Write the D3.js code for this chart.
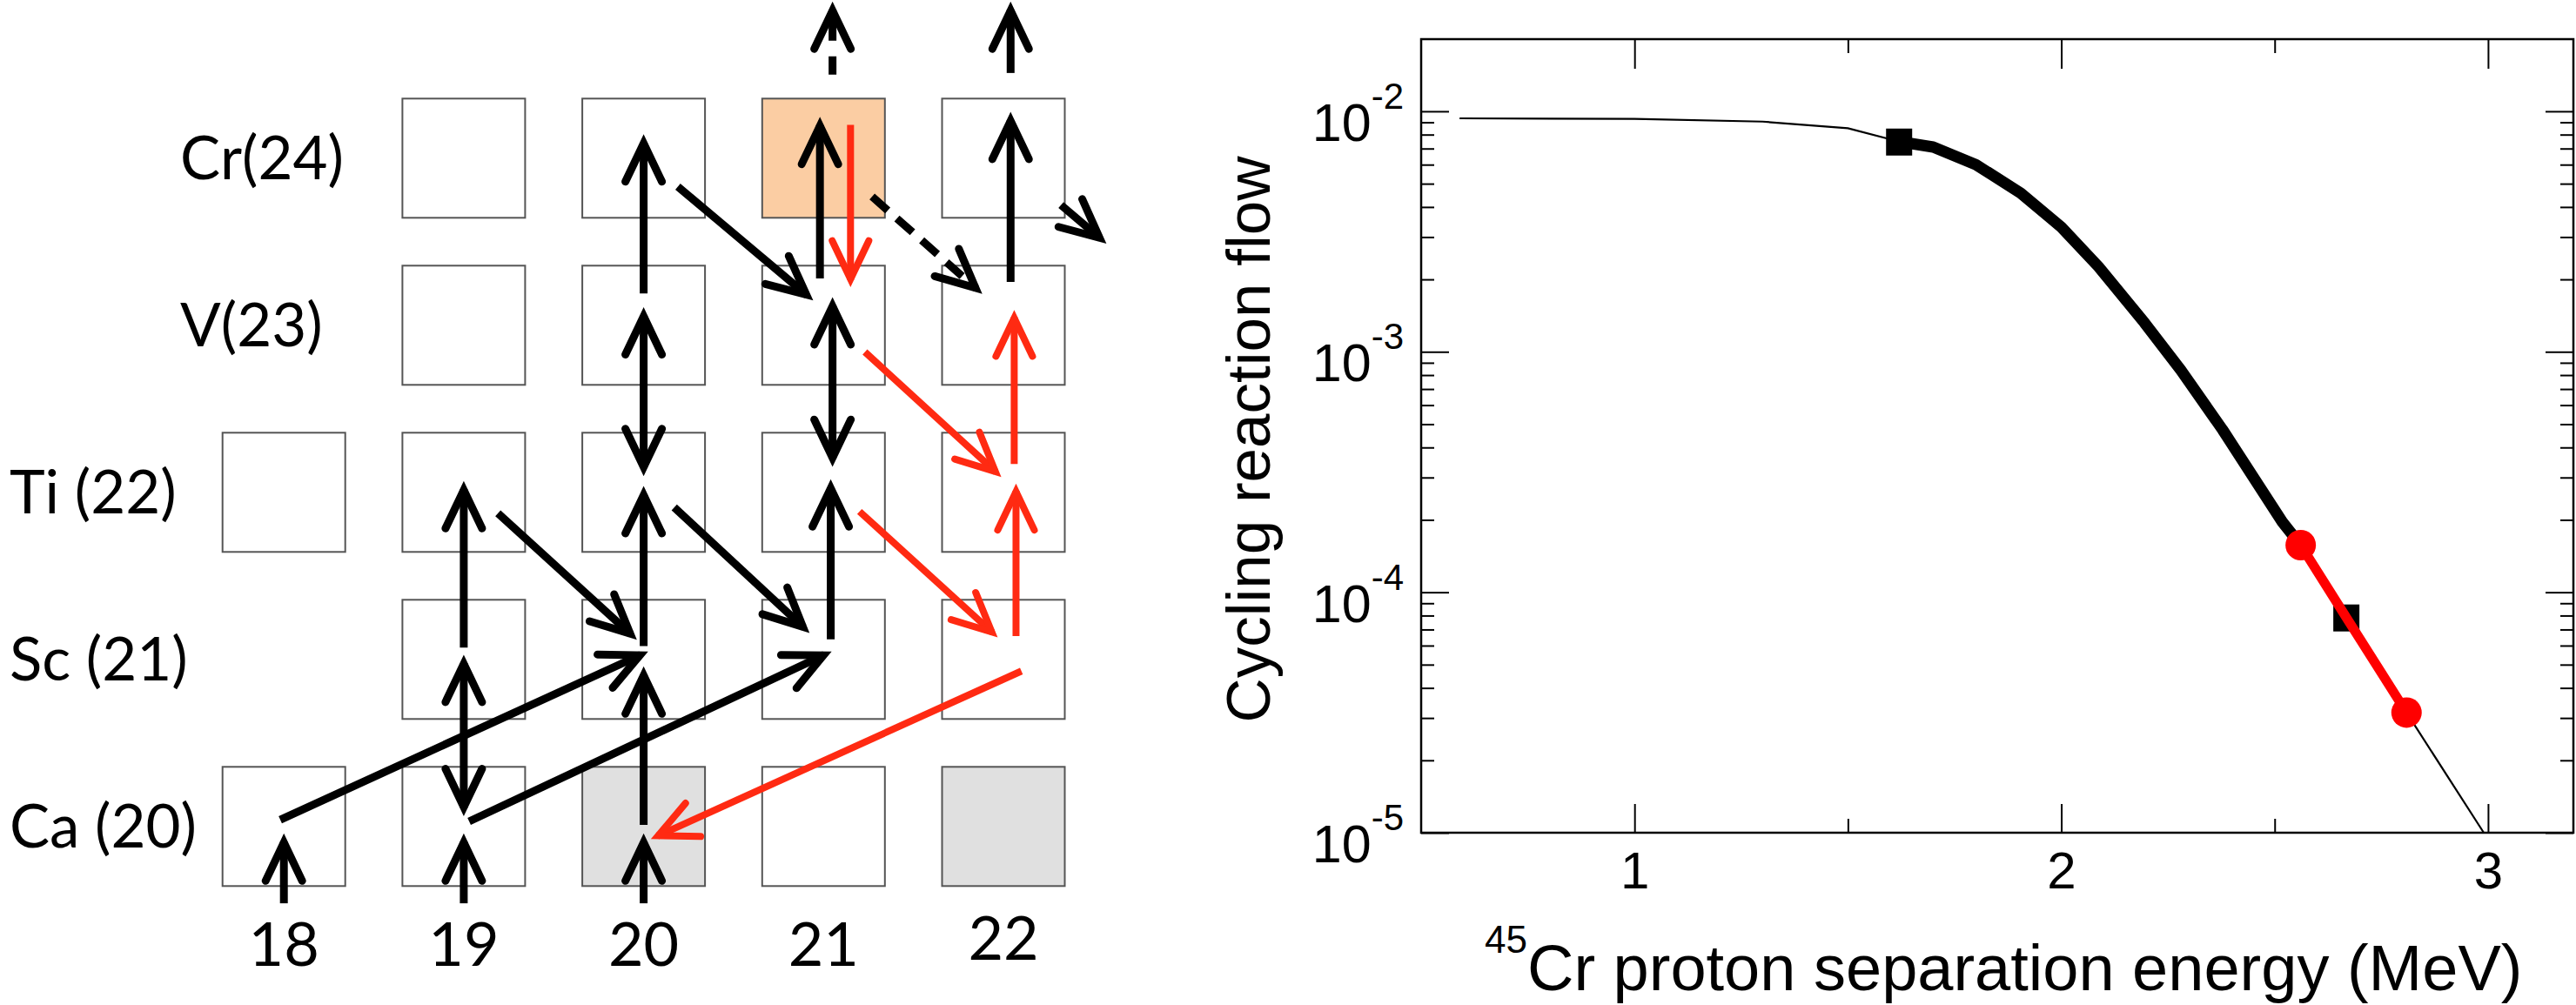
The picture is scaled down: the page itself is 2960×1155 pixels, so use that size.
<!DOCTYPE html>
<html>
<head>
<meta charset="utf-8">
<script src="https://cdn.jsdelivr.net/npm/d3@7"></script>
<style>
  body { margin: 0; background: #fff; }
  svg { display: block; }
</style>
</head>
<body>
<svg id="fig" width="2960" height="1155"></svg>
<script>
// ---------- left panel data: nuclide chart ----------
let rowZ = [24, 23, 22, 21, 20],
    rowLabels = ["Cr(24)", "V(23)", "Ti (22)", "Sc (21)", "Ca (20)"],
    colN = [18, 19, 20, 21, 22],
    colLabels = ["18", "19", "20", "21", "22"];

// [N, Z, fill]
let boxes = [
  [19, 24, "w"], [20, 24, "w"], [21, 24, "o"], [22, 24, "w"],
  [19, 23, "w"], [20, 23, "w"], [21, 23, "w"], [22, 23, "w"],
  [18, 22, "w"], [19, 22, "w"], [20, 22, "w"], [21, 22, "w"], [22, 22, "w"],
  [19, 21, "w"], [20, 21, "w"], [21, 21, "w"], [22, 21, "w"],
  [18, 20, "w"], [19, 20, "w"], [20, 20, "g"], [21, 20, "w"], [22, 20, "g"]
];

// [N tail, Z tail, N tip, Z tip, colour, dashed, heads]
let arrows = [
  [18, 19.54, 18, 19.94, "k", 0, 1],
  [19, 19.54, 19, 19.94, "k", 0, 1],
  [20, 19.54, 20, 19.94, "k", 0, 1],
  [19, 20.08, 19, 21.01, "k", 0, 2],
  [19, 21.07, 19, 22.05, "k", 0, 1],
  [20, 20.01, 20, 20.94, "k", 0, 1],
  [20, 21.08, 20, 22.02, "k", 0, 1],
  [20, 22.115, 20, 23.09, "k", 0, 2],
  [20, 23.19, 20, 24.125, "k", 0, 1],
  [21.04, 21.12, 21.04, 22.06, "k", 0, 1],
  [21.05, 22.17, 21.05, 23.15, "k", 0, 2],
  [20.98, 23.28, 20.98, 24.23, "k", 0, 1],
  [21.15, 24.2, 21.15, 23.24, "r", 0, 1],
  [21.05, 24.5, 21.05, 24.92, "k", 2, 1],
  [22.04, 24.51, 22.04, 24.92, "k", 0, 1],
  [22.04, 23.26, 22.04, 24.26, "k", 0, 1],
  [22.06, 22.17, 22.06, 23.08, "r", 0, 1],
  [22.07, 21.14, 22.07, 22.04, "r", 0, 1],
  [19.19, 21.875, 19.95, 21.13, "k", 0, 1],
  [20.17, 21.91, 20.91, 21.17, "k", 0, 1],
  [20.19, 23.83, 20.93, 23.16, "k", 0, 1],
  [21.27, 23.77, 21.87, 23.2, "k", 1, 1],
  [22.32, 23.72, 22.56, 23.5, "k", 0, 1],
  [21.23, 22.84, 21.98, 22.10, "r", 0, 1],
  [21.20, 21.885, 21.96, 21.14, "r", 0, 1],
  [17.98, 20.04, 20.01, 21.04, "k", 0, 1],
  [19.03, 20.03, 21.03, 21.04, "k", 0, 1],
  [22.10, 20.93, 20.05, 19.93, "r", 0, 1]
];

// ---------- right panel data ----------
let energy = [0.59, 1.0, 1.3, 1.5, 1.62, 1.70, 1.80, 1.905, 2.0, 2.087, 2.195, 2.28, 2.378, 2.518, 2.561, 2.668, 2.809, 2.99],
    flow = [9.35e-3, 9.3e-3, 9.06e-3, 8.5e-3, 7.48e-3, 7.1e-3, 6.0e-3, 4.57e-3, 3.3e-3, 2.26e-3, 1.32e-3, 8.4e-4, 4.74e-4, 1.96e-4, 1.57e-4, 7.85e-5, 3.16e-5, 1e-5];
let thickRange = [1.62, 2.561],
    redRange = [2.561, 2.809];
let squareE = [1.62, 2.668], squareF = [7.48e-3, 7.85e-5];
let circleE = [2.561, 2.809], circleF = [1.57e-4, 3.16e-5];
let xMajor = [1, 2, 3], xMinor = [1.5, 2.5],
    yMajor = [1e-5, 1e-4, 1e-3, 1e-2], yExp = ["-5", "-4", "-3", "-2"];

let svg = d3.select("#fig");
svg.append("rect").attr("width", 2960).attr("height", 1155).attr("fill", "#fff");

// ================= left panel =================
let nx = d3.scaleLinear().domain([18, 22]).range([326.2, 1153]),
    zy = d3.scaleLinear().domain([20, 24]).range([949.8, 181.8]);
let boxW = 141, boxH = 137;
let fills = {w: "#fff", o: "#fbcda3", g: "#e0e0e0"},
    colors = {k: "#000", r: "#ff2a12"};

let left = svg.append("g").attr("id", "chart");

left.selectAll("rect.box")
  .data(boxes).enter()
  .append("rect")
  .attr("class", "box")
  .attr("x", d => nx(d[0]) - boxW / 2)
  .attr("y", d => zy(d[1]) - boxH / 2)
  .attr("width", boxW)
  .attr("height", boxH)
  .attr("fill", d => fills[d[2]])
  .attr("stroke", "#555")
  .attr("stroke-width", 2);

left.selectAll("text.row")
  .data(rowZ).enter()
  .append("text")
  .attr("class", "row")
  .attr("x", d => d >= 23 ? 207 : 11)
  .attr("y", d => zy(d) + 24)
  .attr("font-family", "Lato, 'Open Sans', sans-serif")
  .attr("font-size", 69)
  .text((d, i) => rowLabels[i]);

left.selectAll("text.col")
  .data(colN).enter()
  .append("text")
  .attr("class", "col")
  .attr("x", d => nx(d))
  .attr("y", d => d == 22 ? 1103 : 1110)
  .attr("text-anchor", "middle")
  .attr("font-family", "Lato, 'Open Sans', sans-serif")
  .attr("font-size", 70)
  .text((d, i) => colLabels[i]);

function head(x, y, ux, uy) {
  let L = 44, W = 21,
      tx = x - 7 * ux, ty = y - 7 * uy;
  return `M${tx - L * ux - W * uy},${ty - L * uy + W * ux}L${tx},${ty}L${tx - L * ux + W * uy},${ty - L * uy - W * ux}`;
}

arrows.forEach(a => {
  let [n1, z1, n2, z2, c, dashed, heads] = a;
  let x1 = nx(n1), y1 = zy(z1), x2 = nx(n2), y2 = zy(z2);
  let len = Math.hypot(x2 - x1, y2 - y1), ux = (x2 - x1) / len, uy = (y2 - y1) / len;
  let g = left.append("g")
    .attr("stroke", colors[c])
    .attr("fill", "none")
    .attr("stroke-width", c == "r" ? 8 : 9);
  let line = g.append("line")
    .attr("x1", heads == 2 ? x1 + 6 * ux : x1).attr("y1", heads == 2 ? y1 + 6 * uy : y1)
    .attr("x2", x2 - 6 * ux).attr("y2", y2 - 6 * uy);
  if (dashed == 1) line.attr("stroke-dasharray", "24,14");
  if (dashed == 2) line.attr("stroke-dasharray", "21,18,300");
  g.append("path").attr("d", head(x2, y2, ux, uy))
    .attr("stroke-linejoin", "miter").attr("stroke-linecap", "round");
  if (heads == 2)
    g.append("path").attr("d", head(x1, y1, -ux, -uy))
      .attr("stroke-linejoin", "miter").attr("stroke-linecap", "round");
});

// ================= right panel =================
let pl = 1633, pr = 2957, pt = 45, pb = 957;
let x = d3.scaleLinear().domain([0.5, 3.2]).range([pl, pr]),
    y = d3.scaleLog().domain([1e-5, Math.pow(10, -1.7)]).range([pb, pt]);

let right = svg.append("g").attr("id", "plot")
  .attr("font-family", "'Liberation Sans', Arial, Helvetica, sans-serif");

let yMinor = [];
yMajor.forEach(v => d3.range(2, 10).forEach(k => { if (v * k < y.domain()[1]) yMinor.push(v * k); }));

function styleAxis(g) {
  g.select(".domain").remove();
  g.selectAll(".tick line").attr("stroke", "#000").attr("stroke-width", 2);
}

right.append("g").attr("transform", `translate(0,${pb})`)
  .call(d3.axisBottom(x).tickValues(xMajor).tickSize(-33).tickPadding(21).tickFormat(d3.format("d")))
  .call(styleAxis)
  .call(g => g.selectAll("text").attr("font-size", 60).attr("fill", "#000").attr("font-family", null));
right.append("g").attr("transform", `translate(0,${pb})`)
  .call(d3.axisBottom(x).tickValues(xMinor).tickSize(-16).tickFormat(""))
  .call(styleAxis);
right.append("g").attr("transform", `translate(0,${pt})`)
  .call(d3.axisTop(x).tickValues(xMajor).tickSize(-34).tickFormat(""))
  .call(styleAxis);
right.append("g").attr("transform", `translate(0,${pt})`)
  .call(d3.axisTop(x).tickValues(xMinor).tickSize(-16).tickFormat(""))
  .call(styleAxis);

right.append("g").attr("transform", `translate(${pl},0)`)
  .call(d3.axisLeft(y).tickValues(yMajor).tickSize(-32).tickFormat(""))
  .call(styleAxis);
right.append("g").attr("transform", `translate(${pl},0)`)
  .call(d3.axisLeft(y).tickValues(yMinor).tickSize(-15).tickFormat(""))
  .call(styleAxis);
right.append("g").attr("transform", `translate(${pr},0)`)
  .call(d3.axisRight(y).tickValues(yMajor).tickSize(-32).tickFormat(""))
  .call(styleAxis);
right.append("g").attr("transform", `translate(${pr},0)`)
  .call(d3.axisRight(y).tickValues(yMinor).tickSize(-15).tickFormat(""))
  .call(styleAxis);

right.append("rect")
  .attr("x", pl).attr("y", pt).attr("width", pr - pl).attr("height", pb - pt)
  .attr("fill", "none").attr("stroke", "#000").attr("stroke-width", 2.5);

let ylab = right.selectAll("text.ylab")
  .data(yMajor).enter()
  .append("text")
  .attr("class", "ylab")
  .attr("x", 1613)
  .attr("y", d => y(d) + 34)
  .attr("text-anchor", "end")
  .attr("font-size", 61);
ylab.append("tspan").text("10");
ylab.append("tspan").attr("dy", -37).attr("font-size", 42).text((d, i) => yExp[i]);

// curve
let pts = energy.map((e, i) => [e, flow[i]]);
let lineGen = d3.line().x(d => x(d[0])).y(d => y(d[1]));

right.append("path").datum(pts)
  .attr("d", lineGen).attr("fill", "none").attr("stroke", "#000").attr("stroke-width", 2.2);
right.append("path").datum(pts.filter(d => d[0] >= thickRange[0] && d[0] <= thickRange[1]))
  .attr("d", lineGen).attr("fill", "none").attr("stroke", "#000").attr("stroke-width", 13)
  .attr("stroke-linejoin", "round");

right.selectAll("rect.sq")
  .data(squareE).enter()
  .append("rect")
  .attr("class", "sq")
  .attr("x", d => x(d) - 15)
  .attr("y", (d, i) => y(squareF[i]) - 15)
  .attr("width", 30).attr("height", 31)
  .attr("fill", "#000");

right.append("path").datum(pts.filter(d => d[0] >= redRange[0] && d[0] <= redRange[1]))
  .attr("d", lineGen).attr("fill", "none").attr("stroke", "#f00").attr("stroke-width", 11);

right.selectAll("circle.pt")
  .data(circleE).enter()
  .append("circle")
  .attr("class", "pt")
  .attr("cx", d => x(d))
  .attr("cy", (d, i) => y(circleF[i]))
  .attr("r", 17.5)
  .attr("fill", "#f00");

// axis titles
right.append("text")
  .attr("transform", "translate(1459,505) rotate(-90)")
  .attr("text-anchor", "middle")
  .attr("font-size", 71)
  .text("Cycling reaction flow");

let xt = right.append("text")
  .attr("x", 1706).attr("y", 1138);
xt.append("tspan").attr("font-size", 44).attr("dy", -43).text("45");
xt.append("tspan").attr("font-size", 74).attr("dy", 43).text("Cr proton separation energy (MeV)");
</script>
</body>
</html>
